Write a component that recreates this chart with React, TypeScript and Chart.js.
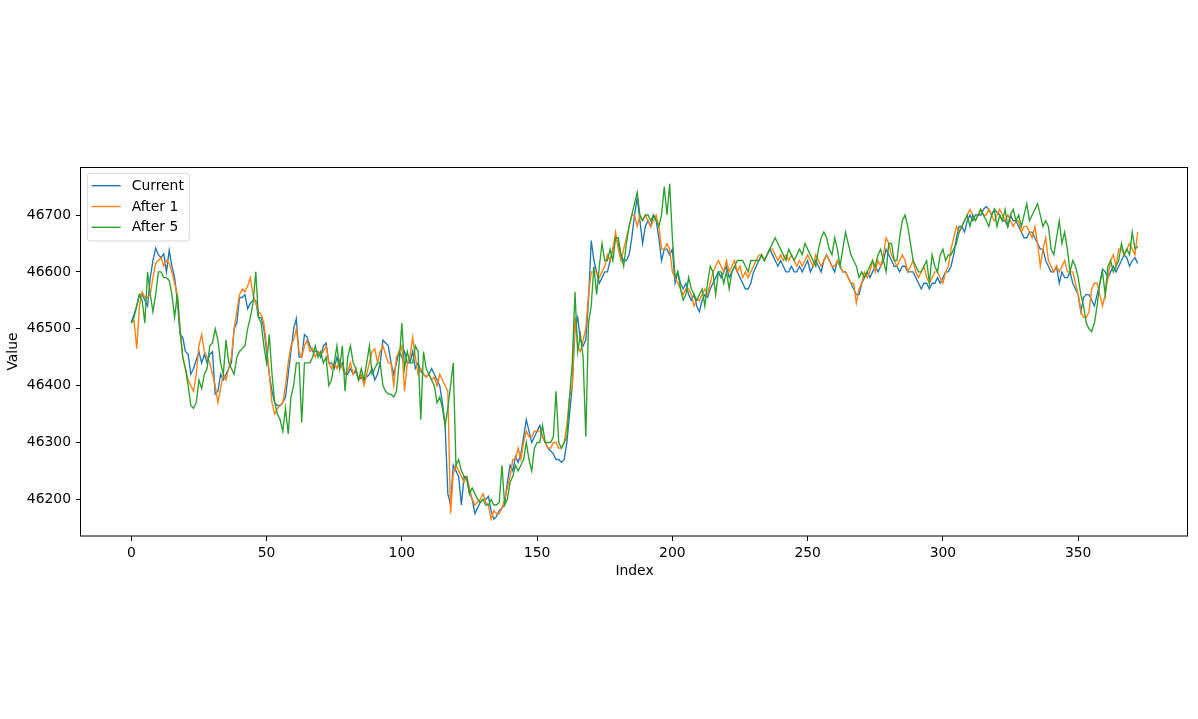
import React, { useEffect, useRef } from "react";
import { Chart, registerables } from "chart.js";

Chart.register(...registerables);

const seriesLabels = ["Current", "After 1", "After 5"];
const seriesColors = ["#1f77b4", "#ff7f0e", "#2ca02c"];
const xTicks = [0, 50, 100, 150, 200, 250, 300, 350];
const yTicks = [46200, 46300, 46400, 46500, 46600, 46700];
const xTitle = "Index";
const yTitle = "Value";

const current = [
  46512, 46525, 46540, 46560, 46560, 46550, 46540, 46590, 46620, 46642,
  46630, 46625, 46632, 46600, 46638, 46610, 46590, 46550, 46490, 46485,
  46460, 46455, 46420, 46430, 46445, 46460, 46440, 46455, 46440, 46455,
  46460, 46385, 46390, 46420, 46410, 46420, 46430, 46440, 46500, 46510,
  46555, 46555, 46560, 46535, 46545, 46550, 46550, 46520, 46520, 46500,
  46460, 46420, 46390, 46370, 46365, 46365, 46370, 46380, 46420, 46460,
  46500, 46518, 46450, 46450, 46490, 46485, 46470, 46460, 46460, 46460,
  46450, 46470, 46475, 46440, 46440, 46430, 46450, 46430, 46440, 46420,
  46420, 46430, 46420, 46425, 46410, 46415, 46410, 46415, 46420, 46430,
  46410, 46420, 46440, 46480, 46475, 46470, 46440, 46420, 46440, 46460,
  46450, 46460, 46440, 46440, 46460, 46430, 46440, 46425, 46420, 46415,
  46420, 46430, 46420, 46410, 46400, 46370, 46330, 46210, 46190, 46260,
  46250, 46240, 46190, 46240, 46235, 46210, 46200, 46175, 46185, 46195,
  46200, 46200, 46205, 46180, 46165, 46170, 46180, 46185, 46190, 46230,
  46260, 46250, 46275, 46265, 46280, 46310, 46340, 46320, 46300, 46310,
  46320, 46330, 46310, 46300, 46290, 46285, 46280, 46270, 46270, 46265,
  46270, 46300, 46350, 46400, 46500, 46520, 46480, 46470, 46480, 46550,
  46655, 46620, 46600, 46580, 46590, 46600, 46600, 46620, 46640, 46660,
  46650, 46630, 46620, 46620, 46630, 46660, 46700, 46730, 46690, 46650,
  46680, 46690, 46680, 46700, 46690, 46660, 46620, 46640, 46640, 46630,
  46640, 46580, 46600, 46580, 46570, 46580, 46560, 46550, 46560, 46540,
  46530, 46550, 46560, 46555, 46570, 46580, 46590, 46600, 46590, 46600,
  46610, 46590, 46600, 46610, 46600, 46590, 46580, 46570, 46570, 46580,
  46600, 46610, 46620, 46630, 46620, 46630, 46640, 46630, 46620, 46610,
  46620, 46610, 46600, 46600, 46610, 46600, 46600, 46610, 46600, 46610,
  46620, 46600, 46610, 46620, 46610, 46600, 46620, 46630, 46620, 46610,
  46600, 46620, 46610, 46600, 46600, 46590, 46580, 46570, 46560, 46560,
  46580, 46590, 46600, 46590, 46600, 46610, 46600, 46610, 46620, 46640,
  46630, 46620, 46610, 46610, 46600, 46610, 46610, 46600, 46600, 46600,
  46590, 46580, 46570, 46580, 46580, 46570, 46580, 46580, 46590, 46580,
  46590, 46600, 46600, 46610, 46630, 46660, 46680, 46680, 46670, 46690,
  46700, 46690, 46700, 46700, 46700, 46710, 46715, 46710, 46700, 46710,
  46705, 46700, 46690, 46690, 46680, 46700, 46690, 46690, 46680, 46670,
  46660, 46660, 46670, 46670, 46660, 46650, 46640, 46640, 46620, 46610,
  46600, 46600, 46610, 46580, 46600, 46590, 46590, 46600, 46580, 46570,
  46560, 46530, 46555, 46560, 46560, 46550, 46540, 46560, 46580, 46605,
  46600, 46590, 46600, 46610, 46600, 46610, 46620, 46630, 46625, 46610,
  46620, 46625, 46615,
];

const after1 = [
  46510, 46515, 46465, 46540, 46565, 46555, 46555, 46560, 46590, 46615,
  46620, 46625, 46610, 46620, 46615, 46600, 46580, 46560, 46500, 46450,
  46430, 46410, 46400, 46390, 46420, 46470, 46490, 46460, 46450, 46440,
  46420, 46400, 46370, 46395, 46420, 46410, 46430, 46450, 46500, 46530,
  46560, 46570, 46565, 46575, 46590, 46560, 46545, 46530, 46525, 46510,
  46470, 46420, 46370, 46350, 46360, 46365, 46370, 46400, 46440, 46470,
  46480, 46500, 46460, 46450, 46470, 46480, 46460, 46465, 46450, 46460,
  46455, 46460, 46470, 46440, 46430, 46440, 46430, 46445, 46430, 46420,
  46425, 46440, 46420, 46430, 46410, 46420, 46400, 46420, 46440, 46460,
  46465, 46440, 46460, 46470, 46455, 46440, 46440, 46400, 46450, 46460,
  46470, 46390, 46440, 46450, 46485, 46450, 46420, 46430, 46420, 46415,
  46420, 46410, 46415, 46400, 46420, 46410, 46400, 46390, 46175, 46245,
  46260, 46250, 46240, 46230, 46240, 46220, 46200, 46190, 46195, 46200,
  46210, 46195, 46190, 46165, 46180, 46175, 46175, 46185, 46200, 46220,
  46240, 46270, 46270, 46290, 46270, 46300, 46320, 46310, 46310, 46320,
  46320, 46320, 46310, 46300, 46290, 46290, 46300, 46300, 46290, 46290,
  46300, 46330, 46380, 46400, 46520, 46470, 46460, 46480, 46500, 46560,
  46600, 46600, 46600, 46590, 46600, 46610, 46630, 46620, 46640, 46670,
  46640, 46620, 46640, 46660, 46680, 46700, 46700, 46680, 46700, 46690,
  46700, 46690, 46680, 46690, 46700, 46680, 46640, 46640, 46650, 46640,
  46600, 46590, 46580, 46570, 46560, 46570, 46570, 46560, 46540, 46550,
  46550, 46560, 46570, 46560, 46580, 46600, 46610, 46620, 46610, 46600,
  46620, 46600, 46610, 46620, 46600, 46610, 46590, 46600, 46590, 46600,
  46610, 46620, 46630, 46630, 46620, 46630, 46640, 46640, 46630, 46620,
  46630, 46620, 46630, 46620, 46630, 46620, 46610, 46620, 46610, 46620,
  46630, 46620, 46610, 46630, 46620, 46610, 46620, 46630, 46620, 46610,
  46610, 46620, 46610, 46600, 46600, 46590, 46580, 46580, 46545, 46570,
  46580, 46600, 46590, 46600, 46620, 46600, 46620, 46610, 46630, 46660,
  46650, 46630, 46620, 46610, 46620, 46630, 46620, 46600, 46610, 46620,
  46600, 46590, 46600, 46610, 46590, 46580, 46590, 46600, 46600, 46590,
  46580, 46600, 46610, 46640, 46660, 46680, 46670, 46680, 46690, 46700,
  46710, 46700, 46690, 46700, 46710, 46700, 46700, 46710, 46700, 46690,
  46700, 46710, 46700, 46690, 46700, 46690, 46680, 46690, 46690, 46670,
  46680, 46680, 46670, 46660, 46680, 46650, 46610, 46640, 46660, 46620,
  46610, 46600, 46610, 46600, 46610, 46620, 46600, 46600, 46600, 46580,
  46560, 46530, 46520, 46520, 46530, 46570, 46580, 46580, 46560, 46540,
  46560, 46590, 46620, 46630, 46610, 46640, 46640, 46630, 46640, 46650,
  46640, 46630, 46670,
];

const after5 = [
  46510, 46520, 46540, 46560, 46550, 46510, 46600, 46560, 46530, 46560,
  46600, 46600, 46590, 46590, 46585, 46560, 46520, 46560, 46500, 46450,
  46430, 46400, 46365, 46360, 46370, 46410, 46395, 46420, 46430, 46470,
  46475, 46500, 46480, 46440, 46420, 46480, 46440, 46430, 46420, 46450,
  46460, 46465, 46470, 46500, 46520, 46545, 46600, 46520, 46510, 46470,
  46440, 46490, 46420, 46370, 46350, 46340, 46320, 46360, 46315, 46380,
  46400, 46440, 46440, 46335, 46440, 46440, 46440, 46450, 46470, 46450,
  46460, 46440, 46450, 46400, 46410, 46440, 46470, 46430, 46470, 46390,
  46450, 46470, 46440, 46430, 46410, 46430, 46410, 46440, 46470, 46420,
  46430, 46440, 46440, 46400, 46390, 46385, 46385, 46380, 46390, 46440,
  46510, 46430, 46460, 46440, 46440, 46470, 46460, 46340, 46460, 46430,
  46420, 46410, 46400, 46370, 46380, 46360, 46330, 46360, 46400, 46440,
  46260, 46270, 46250, 46240, 46240, 46210, 46220, 46210, 46200, 46195,
  46200, 46190, 46190, 46200, 46190, 46190, 46195, 46260, 46190, 46200,
  46230, 46240, 46260, 46250, 46260, 46270, 46300, 46270, 46250, 46290,
  46300, 46300, 46330, 46300, 46300, 46300, 46310, 46390, 46300, 46290,
  46300, 46310, 46380, 46440, 46565, 46460, 46490, 46450, 46310, 46510,
  46540, 46610, 46560, 46610, 46650, 46620, 46620, 46640, 46620, 46660,
  46660, 46630, 46610, 46650, 46680, 46700, 46720, 46740, 46700, 46690,
  46700, 46700, 46690, 46700, 46690, 46680, 46700, 46750, 46700, 46755,
  46660, 46590, 46600, 46570, 46550, 46560, 46590, 46570, 46560, 46550,
  46560, 46570, 46540, 46580, 46610, 46600, 46560, 46600, 46600, 46580,
  46600, 46570, 46600, 46610, 46620, 46620, 46620, 46610, 46600, 46620,
  46620, 46620, 46620, 46630, 46620, 46630, 46640, 46650, 46660, 46650,
  46640, 46630, 46620, 46640, 46630, 46620, 46630, 46640, 46630, 46650,
  46640, 46630, 46620, 46610, 46640, 46660, 46670, 46660, 46640, 46630,
  46660, 46640, 46610, 46640, 46670, 46650, 46630, 46620, 46610, 46590,
  46600, 46590, 46600, 46610, 46620, 46610, 46630, 46640, 46620, 46600,
  46650, 46650, 46620, 46620, 46660, 46690, 46700, 46680, 46650, 46620,
  46610, 46600, 46600, 46610, 46620, 46580, 46630, 46610, 46600, 46630,
  46640, 46620, 46630, 46630, 46640, 46650, 46670, 46680, 46690, 46700,
  46680, 46700, 46690, 46700, 46710, 46700, 46690, 46680, 46700, 46710,
  46680, 46700, 46690, 46710, 46680, 46700, 46710, 46690, 46700, 46680,
  46700, 46720, 46690, 46700, 46710, 46720, 46700, 46680, 46690, 46680,
  46640, 46630, 46660, 46690, 46650, 46670, 46640, 46600, 46620, 46610,
  46590, 46560, 46540, 46510, 46500, 46495, 46510, 46540, 46580, 46600,
  46560, 46610, 46620, 46600, 46610, 46620, 46650, 46630, 46640, 46630,
  46670, 46640, 46645,
];

const FONT = "'DejaVu Sans', 'Liberation Sans', sans-serif";
const FS = 13.9;

const framePlugin = {
  id: "mplFrameLegend",
  afterDatasetsDraw(chart: any) {
    const ctx = chart.ctx as CanvasRenderingContext2D;
    const { left, top, right, bottom } = chart.chartArea;
    ctx.save();
    // frame (spines)
    ctx.strokeStyle = "#000";
    ctx.lineWidth = 1;
    ctx.strokeRect(Math.round(left) - 0.5, Math.round(top) + 0.5, Math.round(right) - Math.round(left), Math.round(bottom) - Math.round(top) - 0.5);
    // legend
    const bx = left + 6.3;
    const by = top + 6.3;
    const bw = 102;
    const bh = 67.7;
    ctx.beginPath();
    (ctx as any).roundRect(bx, by, bw, bh, 3);
    ctx.fillStyle = "rgba(255,255,255,0.8)";
    ctx.fill();
    ctx.strokeStyle = "rgba(204,204,204,0.8)";
    ctx.lineWidth = 1;
    ctx.stroke();
    ctx.font = `${FS}px ${FONT}`;
    ctx.textBaseline = "middle";
    ctx.textAlign = "left";
    chart.data.datasets.forEach((ds: any, i: number) => {
      const y = by + 12.4 + i * 20.8;
      ctx.beginPath();
      ctx.strokeStyle = ds.borderColor;
      ctx.lineWidth = 1.4;
      ctx.moveTo(bx + 4.4, y);
      ctx.lineTo(bx + 33.4, y);
      ctx.stroke();
      ctx.fillStyle = "#000";
      ctx.fillText(ds.label, bx + 44.4, y + 0.5);
    });
    ctx.restore();
  },
};

export default function App() {
  const ref = useRef<HTMLCanvasElement | null>(null);

  useEffect(() => {
    if (!ref.current) return;
    const all = [...current, ...after1, ...after5];
    const dMin = Math.min(...all);
    const dMax = Math.max(...all);
    const dr = dMax - dMin;
    const n = current.length - 1;
    const series = [current, after1, after5];
    const chart = new Chart(ref.current, {
      type: "line",
      data: {
        datasets: series.map((arr, i) => ({
          label: seriesLabels[i],
          data: arr.map((v, idx) => ({ x: idx, y: v })),
          borderColor: seriesColors[i],
          backgroundColor: seriesColors[i],
          borderWidth: 1.35,
          pointRadius: 0,
          tension: 0,
          fill: false,
          order: 3 - i,
        })),
      },
      options: {
        animation: false,
        responsive: false,
        devicePixelRatio: 1,
        events: [],
        layout: { padding: { top: 167, right: 10, bottom: 139, left: 0 } },
        plugins: { legend: { display: false }, tooltip: { enabled: false } },
        scales: {
          x: {
            type: "linear",
            min: -0.05 * n,
            max: n * 1.05,
            afterBuildTicks: (s: any) => {
              s.ticks = xTicks.map((v) => ({ value: v }));
            },
            afterFit: (s: any) => {
              s.height = 44;
            },
            grid: { display: true, drawOnChartArea: false, drawTicks: true, tickLength: 5, tickColor: "#000", tickWidth: 1 },
            border: { display: false },
            ticks: {
              autoSkip: false,
              maxRotation: 0,
              padding: 4,
              color: "#000",
              font: { family: FONT, size: FS },
              callback: (v: any) => String(v),
            },
            title: { display: true, text: xTitle, color: "#000", font: { family: FONT, size: FS }, padding: { top: 0, bottom: 0 } },
          },
          y: {
            type: "linear",
            min: dMin - 0.05 * dr,
            max: dMax + 0.05 * dr,
            afterBuildTicks: (s: any) => {
              s.ticks = yTicks.map((v) => ({ value: v }));
            },
            afterFit: (s: any) => {
              s.width = 81;
            },
            grid: { display: true, drawOnChartArea: false, drawTicks: true, tickLength: 5, tickColor: "#000", tickWidth: 1 },
            border: { display: false },
            ticks: {
              autoSkip: false,
              padding: 5,
              color: "#000",
              font: { family: FONT, size: FS },
              callback: (v: any) => String(v),
            },
            title: { display: true, text: yTitle, color: "#000", font: { family: FONT, size: FS }, padding: { top: 5, bottom: 0 } },
          },
        },
      },
      plugins: [framePlugin],
    } as any);
    return () => chart.destroy();
  }, []);

  return (
    <div style={{ position: "absolute", left: 0, top: 0, width: 1198, height: 719, background: "#fff" }}>
      <canvas ref={ref} width={1198} height={719} style={{ display: "block" }} />
    </div>
  );
}
